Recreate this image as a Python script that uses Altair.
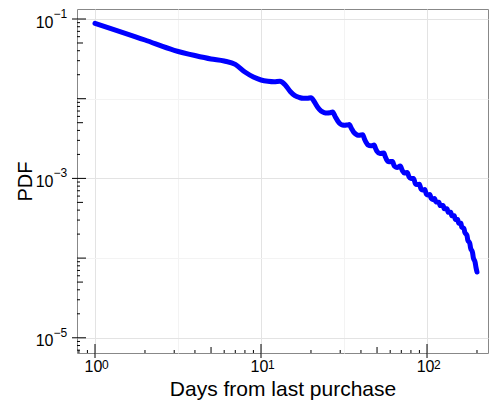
import altair as alt
import pandas as pd

# ---- data ----
days = [1, 2, 3, 4, 5, 6, 7, 8, 9, 10, 11, 12, 13, 14, 15, 16, 17, 18, 19, 20,
        21, 22, 23, 24, 25, 26, 27, 28, 29, 30, 31, 32, 33, 34, 35, 36, 37, 38, 39, 40,
        41, 42, 43, 44, 46, 48, 49, 50, 52, 55, 56, 57, 59, 62, 63, 64, 66, 69, 71, 73,
        76, 78, 80, 83, 85, 87, 90, 92, 94, 97, 99, 101, 104, 106, 108, 111, 113, 118, 120, 125,
        127, 132, 134, 139, 141, 146, 148, 153, 155, 160, 162, 167, 169, 174, 176, 181, 183, 188, 190, 195,
        197, 200]
pdf = [0.0883, 0.0545, 0.0405, 0.0348, 0.0315, 0.0297, 0.0269, 0.0216, 0.0187, 0.01717,
       0.01653, 0.01629, 0.01653, 0.01486, 0.01231, 0.01090, 0.01035, 0.01012, 0.01012, 0.01026,
       0.00909, 0.00776, 0.00701, 0.00671, 0.00662, 0.00665, 0.00681, 0.00594, 0.00525, 0.00484,
       0.00468, 0.00464, 0.00468, 0.00473, 0.00425, 0.00385, 0.00363, 0.00350, 0.00347, 0.00350,
       0.00354, 0.00312, 0.00282, 0.00264, 0.00256, 0.00262, 0.00237, 0.00218, 0.00205, 0.00208,
       0.00188, 0.00173, 0.00162, 0.00163, 0.00149, 0.00141, 0.00137, 0.00143, 0.001256, 0.001169,
       0.001186, 0.001041, 0.000997, 0.00100, 0.000863, 0.000839, 0.000843, 0.000736, 0.000715, 0.000726,
       0.000637, 0.000619, 0.000628, 0.000560, 0.000544, 0.000561, 0.000507, 0.000504, 0.000457, 0.000457,
       0.000416, 0.000416, 0.000377, 0.000376, 0.000340, 0.000339, 0.000305, 0.000304, 0.000274, 0.000273,
       0.000244, 0.000235, 0.000210, 0.000193, 0.000169, 0.000153, 0.000134, 0.0001176, 0.0001017, 0.0000881,
       0.0000773, 0.0000669]

# tick / grid positions and tick-label exponents
x_grid_values = [1, 3.1623, 10, 31.623, 100]
x_major_ticks = [1, 10, 100]
x_exponents = ["0", "1", "2"]
x_mid_ticks = [5, 50]
x_minor_ticks = [0.8, 0.9, 2, 3, 4, 6, 7, 8, 9, 20, 30, 40, 60, 70, 80, 90, 200]

y_grid_values = [1e-1, 1e-2, 1e-3, 1e-4, 1e-5]
y_labeled_ticks = [1e-1, 1e-3, 1e-5]
y_exponents = ["\u22121", "\u22123", "\u22125"]
y_major_ticks = [1e-2, 1e-4]
y_mid_ticks = [5e-2, 5e-3, 5e-4, 5e-5]
y_minor_ticks = [0.09, 0.08, 0.07, 0.06, 0.04, 0.03, 0.02,
                 0.009, 0.008, 0.007, 0.006, 0.004, 0.003, 0.002,
                 9e-4, 8e-4, 7e-4, 6e-4, 4e-4, 3e-4, 2e-4,
                 9e-5, 8e-5, 7e-5, 6e-5, 4e-5, 3e-5, 2e-5,
                 9e-6, 8e-6, 7e-6]

W, H = 411, 344
FONT = "Liberation Sans"

x_scale = alt.Scale(type="log", domain=[0.779, 233.0], nice=False)
y_scale = alt.Scale(type="log", domain=[6.445e-6, 0.1335], nice=False)

df = pd.DataFrame({"day": days, "pdf": pdf})

LOG10 = "log(datum.value)/LN10"
x_axis = alt.Axis(
    values=x_grid_values, title="Days from last purchase", ticks=False, domain=False,
    grid=True,
    gridColor=alt.condition(f"abs({LOG10} - round({LOG10})) < 0.01", alt.value("#e3e3e3"), alt.value("#f3f3f3")),
    labelExpr=f"abs({LOG10} - round({LOG10})) < 0.01 ? '10' : ''",
    labelFontSize=16, labelPadding=5, labelOffset=-2, labelFlush=False, labelColor="#000",
    titleFontSize=21, titlePadding=4, titleColor="#000", titleFontWeight="normal",
    labelFont=FONT, titleFont=FONT,
)
y_axis = alt.Axis(
    values=y_grid_values, title="PDF", ticks=False, domain=False, grid=True,
    gridColor=alt.condition(f"abs(round({LOG10})) % 2 == 1", alt.value("#e3e3e3"), alt.value("#f3f3f3")),
    labelExpr=f"abs(round({LOG10})) % 2 == 1 ? '10' : ''",
    labelFontSize=16, labelPadding=24, labelOffset=3, labelFlush=False, labelColor="#000",
    titleFontSize=20, titlePadding=0, titleColor="#000", titleFontWeight="normal",
    labelFont=FONT, titleFont=FONT,
)

line = alt.Chart(df).mark_line(
    color="#0000ff", strokeWidth=5, interpolate="monotone", strokeCap="round", strokeJoin="round"
).encode(
    x=alt.X("day:Q", scale=x_scale, axis=x_axis),
    y=alt.Y("pdf:Q", scale=y_scale, axis=y_axis),
)


def xticks(vals, y1, y2):
    return alt.Chart(pd.DataFrame({"day": vals})).mark_rule(color="#000", strokeWidth=1).encode(
        x=alt.X("day:Q", scale=x_scale, axis=x_axis),
        y=alt.value(y1), y2=alt.value(y2),
    )


def yticks(vals, x1, x2):
    return alt.Chart(pd.DataFrame({"pdf": vals})).mark_rule(color="#000", strokeWidth=1).encode(
        y=alt.Y("pdf:Q", scale=y_scale, axis=y_axis),
        x=alt.value(x1), x2=alt.value(x2),
    )


x_exp = alt.Chart(pd.DataFrame({"day": x_major_ticks, "t": x_exponents})).mark_text(
    align="left", baseline="alphabetic", fontSize=12, font=FONT, color="#000", dx=7
).encode(
    x=alt.X("day:Q", scale=x_scale, axis=x_axis),
    y=alt.value(H + 15.5),
    text="t:N",
)

y_exp = alt.Chart(pd.DataFrame({"pdf": y_labeled_ticks, "t": y_exponents})).mark_text(
    align="left", baseline="alphabetic", fontSize=12, font=FONT, color="#000", dy=-1
).encode(
    y=alt.Y("pdf:Q", scale=y_scale, axis=y_axis),
    x=alt.value(-23.5),
    text="t:N",
)

layers = [
    line,
    xticks(x_major_ticks, H + 5, H - 9),
    xticks(x_mid_ticks, H, H - 6),
    xticks(x_minor_ticks, H, H - 3),
    yticks(y_labeled_ticks, -5, 9),
    yticks(y_major_ticks, 0, 9),
    yticks(y_mid_ticks, 0, 6),
    yticks(y_minor_ticks, 0, 3),
    x_exp,
    y_exp,
]

chart = alt.layer(*layers).properties(
    width=W, height=H,
    autosize=alt.AutoSizeParams(type="none"),
    padding={"left": 69, "top": 1, "right": 1, "bottom": 48},
).configure_view(stroke="#888888", strokeWidth=1)

chart.save("out.html", embed_options={"renderer": "svg", "actions": False})
